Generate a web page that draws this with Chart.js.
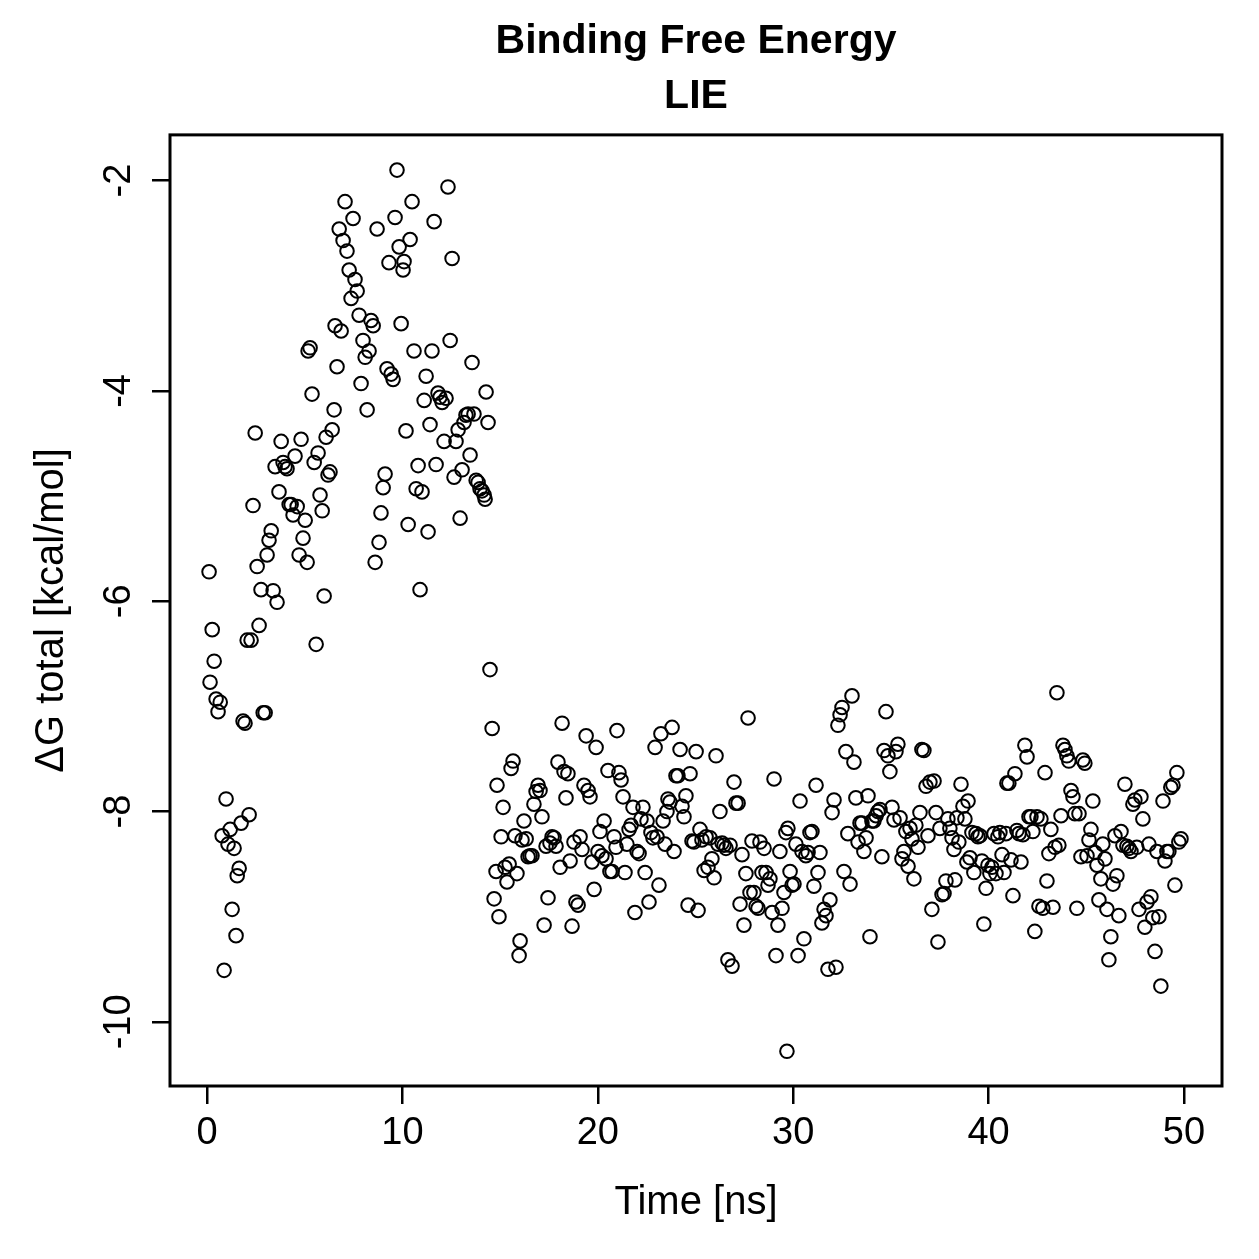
<!DOCTYPE html>
<html>
<head>
<meta charset="utf-8">
<script src="https://cdn.jsdelivr.net/npm/chart.js@4/dist/chart.umd.min.js"></script>
<style>
html,body{margin:0;padding:0;background:#fff;}
#wrap{width:1259px;height:1259px;position:relative;}
</style>
</head>
<body>
<div id="wrap"><canvas id="c"></canvas></div>
<script>
// ---- data (Time in ns, ΔG total in kcal/mol) ----
const titleLines = ['Binding Free Energy', 'LIE'];
const xAxisTitle = 'Time [ns]';
const yAxisTitle = 'ΔG total [kcal/mol]';
const xTicks = [0, 10, 20, 30, 40, 50];
const yTicks = [-10, -8, -6, -4, -2];
const yTickLabels = ['-10', '-8', '-6', '-4', '-2'];

const time00_10 = [0.10,0.15,0.26,0.36,0.46,0.56,0.67,0.77,0.87,0.97,
1.07,1.18,1.28,1.38,1.48,1.54,1.64,1.74,1.84,1.94,
2.05,2.15,2.25,2.35,2.46,2.56,2.66,2.76,2.87,2.97,
3.07,3.17,3.28,3.38,3.48,3.58,3.68,3.79,3.89,3.99,
4.09,4.20,4.30,4.40,4.50,4.61,4.71,4.81,4.91,5.02,
5.12,5.17,5.27,5.37,5.48,5.58,5.68,5.78,5.89,5.99,
6.09,6.19,6.29,6.40,6.50,6.55,6.65,6.76,6.86,6.96,
7.06,7.16,7.27,7.37,7.47,7.57,7.68,7.78,7.88,7.98,
8.09,8.19,8.29,8.39,8.50,8.60,8.70,8.80,8.90,9.01,
9.11,9.21,9.31,9.42,9.52,9.62,9.72,9.83,9.93];
const dG00_10 = [-5.72,-6.77,-6.27,-6.57,-6.93,-7.05,-6.96,-8.23,-9.51,-7.88,
-8.31,-8.17,-8.93,-8.35,-9.18,-8.61,-8.54,-8.11,-7.14,-7.16,
-6.37,-8.03,-6.37,-5.09,-4.40,-5.67,-6.23,-5.89,-7.06,-7.06,
-5.56,-5.42,-5.33,-5.90,-4.72,-6.01,-4.96,-4.48,-4.68,-4.72,
-4.74,-5.08,-5.08,-5.18,-4.62,-5.10,-5.56,-4.46,-5.40,-5.23,
-5.63,-3.62,-3.59,-4.03,-4.68,-6.41,-4.59,-4.99,-5.14,-5.95,
-4.44,-4.80,-4.77,-4.37,-4.18,-3.38,-3.77,-2.46,-3.43,-2.57,
-2.20,-2.67,-2.85,-3.12,-2.36,-2.94,-3.05,-3.28,-3.93,-3.52,
-3.68,-4.18,-3.62,-3.33,-3.38,-5.63,-2.46,-5.44,-5.16,-4.92,
-4.79,-3.79,-2.78,-3.84,-3.89,-2.35,-1.90,-2.63,-3.36];

const time10_20 = [10.03,10.08,10.18,10.29,10.39,10.49,10.59,10.70,10.80,10.90,
11.00,11.11,11.21,11.31,11.41,11.51,11.62,11.72,11.82,11.92,
12.03,12.13,12.23,12.33,12.44,12.54,12.64,12.74,12.85,12.95,
13.05,13.15,13.25,13.36,13.46,13.56,13.66,13.77,13.87,13.97,
14.07,14.18,14.23,14.28,14.38,
14.48,14.59,14.69,14.79,14.84,14.94,15.05,15.15,15.25,15.35,
15.46,15.56,15.66,15.76,15.86,15.97,16.02,16.12,16.22,16.33,
16.43,16.53,16.63,16.73,16.84,16.94,17.04,17.14,17.25,17.35,
17.45,17.55,17.66,17.76,17.86,17.96,18.07,18.17,18.27,18.37,
18.47,18.58,18.68,18.78,18.88,18.99,19.09,19.19,19.29,19.40,
19.50,19.60,19.70,19.81,19.91];
const dG10_20 = [-2.85,-2.77,-4.38,-5.27,-2.56,-2.20,-3.62,-4.93,-4.71,-5.89,
-4.96,-4.09,-3.86,-5.34,-4.32,-3.62,-2.39,-4.70,-4.02,-4.06,
-4.11,-4.48,-4.07,-2.06,-3.52,-2.74,-4.82,-4.48,-4.37,-5.21,
-4.75,-4.30,-4.23,-4.22,-4.61,-3.73,-4.22,-4.85,-4.87,-4.93,
-4.95,-4.99,-5.03,-4.01,-4.30,
-6.65,-7.21,-8.83,-8.57,-7.75,-9.00,-8.24,-7.96,-8.53,-8.67,
-8.50,-7.59,-7.52,-8.23,-8.59,-9.37,-9.23,-8.27,-8.09,-8.26,
-8.43,-8.42,-8.42,-7.93,-7.81,-7.75,-7.80,-8.05,-9.08,-8.33,
-8.82,-8.30,-8.24,-8.25,-8.33,-7.53,-8.53,-7.16,-7.62,-7.87,
-7.64,-8.47,-9.09,-8.29,-8.86,-8.89,-8.24,-8.36,-7.75,-7.28,
-7.80,-7.86,-8.48,-8.74,-7.39];

const time20_30 = [20.01,20.11,20.21,20.32,20.42,20.52,20.62,20.73,20.83,20.93,
20.98,21.08,21.19,21.29,21.39,21.49,21.60,21.70,21.80,21.90,
22.01,22.11,22.21,22.31,22.42,22.52,22.62,22.72,22.82,22.93,
23.03,23.13,23.23,23.34,23.44,23.54,23.59,23.69,23.80,23.90,
24.00,24.10,24.21,24.31,24.41,24.51,24.62,24.72,24.82,24.92,
25.03,25.13,25.23,25.33,25.44,25.54,25.64,25.74,25.84,25.95,
26.05,26.15,26.25,26.36,26.46,26.56,26.66,26.77,26.87,26.97,
27.07,27.18,27.28,27.38,27.48,27.58,27.69,27.79,27.89,27.99,
28.10,28.20,28.30,28.40,28.51,28.61,28.71,28.81,28.92,29.02,
29.12,29.22,29.32,29.43,29.53,29.63,29.68,29.73,29.84,29.94];
const dG20_30 = [-8.38,-8.19,-8.42,-8.09,-8.45,-7.61,-8.57,-8.57,-8.24,-8.34,
-7.23,-7.63,-7.70,-7.86,-8.58,-8.31,-8.17,-8.13,-7.96,-8.96,
-8.38,-8.40,-8.07,-7.96,-8.58,-8.09,-8.86,-8.20,-8.25,-7.39,
-8.24,-8.70,-7.26,-8.09,-8.31,-8.00,-7.88,-7.91,-7.20,-8.38,
-7.66,-7.66,-7.41,-7.95,-8.05,-7.85,-8.89,-7.64,-8.28,-8.29,
-7.43,-8.94,-8.17,-8.27,-8.56,-8.24,-8.53,-8.25,-8.45,-8.63,
-7.47,-8.31,-8.00,-8.30,-8.32,-8.35,-9.41,-8.32,-9.47,-7.72,
-7.92,-7.92,-8.88,-8.41,-9.08,-8.59,-7.11,-8.77,-8.28,-8.77,
-8.90,-8.92,-8.29,-8.58,-8.35,-8.58,-8.70,-8.64,-8.96,-7.69,
-9.37,-9.08,-8.38,-8.92,-8.77,-8.20,-10.28,-8.16,-8.57,-8.70];

const time30_40 = [30.04,30.14,30.25,30.35,30.45,30.55,30.65,30.76,30.86,30.96,
31.06,31.17,31.27,31.37,31.47,31.58,31.68,31.78,31.88,31.99,
32.09,32.19,32.29,32.40,32.50,32.60,32.70,32.80,32.91,33.01,
33.11,33.21,33.32,33.42,33.52,33.62,33.73,33.83,33.93,34.03,
34.13,34.24,34.34,34.44,34.54,34.65,34.75,34.85,34.95,35.06,
35.16,35.26,35.36,35.47,35.57,35.67,35.77,35.88,35.98,36.08,
36.18,36.28,36.39,36.49,36.59,36.69,36.80,36.90,37.00,37.10,
37.21,37.31,37.41,37.51,37.62,37.72,37.82,37.92,38.02,38.13,
38.23,38.28,38.38,38.48,38.59,38.69,38.79,38.89,38.95,39.05,
39.15,39.25,39.36,39.46,39.56,39.66,39.76,39.87,39.97];
const dG30_40 = [-8.69,-8.31,-9.37,-7.90,-8.38,-9.21,-8.42,-8.39,-8.20,-8.19,
-8.71,-7.75,-8.58,-8.39,-9.06,-8.93,-8.99,-9.50,-8.84,-8.01,
-7.89,-9.48,-7.18,-7.08,-7.01,-8.57,-7.43,-8.21,-8.69,-6.90,
-7.53,-7.87,-8.29,-8.11,-8.11,-8.38,-8.25,-7.85,-9.19,-8.09,
-8.09,-8.04,-8.00,-7.98,-8.43,-7.42,-7.05,-7.47,-7.62,-7.96,
-8.08,-7.43,-7.36,-8.06,-8.45,-8.38,-8.19,-8.52,-8.16,-8.26,
-8.64,-8.13,-8.34,-8.01,-7.41,-7.42,-7.76,-8.23,-7.72,-8.93,
-7.71,-8.01,-9.24,-8.16,-8.79,-8.78,-8.66,-8.07,-8.16,-8.25,
-8.36,-8.65,-8.06,-8.29,-7.74,-7.95,-8.07,-8.48,-7.90,-8.44,
-8.20,-8.58,-8.21,-8.24,-8.23,-8.47,-9.07,-8.73,-8.51];

const time40_50 = [40.07,40.17,40.28,40.38,40.48,40.58,40.69,40.79,40.89,40.94,
41.04,41.15,41.25,41.35,41.45,41.56,41.66,41.76,41.86,41.97,
42.07,42.17,42.27,42.37,42.48,42.58,42.68,42.78,42.89,42.99,
43.09,43.19,43.30,43.40,43.50,43.60,43.71,43.81,43.91,44.01,
44.11,44.22,44.32,44.42,44.52,44.63,44.73,44.83,44.93,45.04,
45.14,45.24,45.34,45.45,45.55,45.65,45.75,45.85,45.96,46.06,
46.16,46.26,46.37,46.47,46.57,46.67,46.78,46.88,46.98,47.08,
47.19,47.29,47.39,47.49,47.59,47.70,47.80,47.90,48.00,48.11,
48.21,48.31,48.41,48.52,48.62,48.72,48.82,48.93,49.03,49.13,
49.23,49.33,49.44,49.54,49.64,49.74,49.85];
const dG40_50 = [-8.59,-8.53,-8.21,-8.59,-8.24,-8.20,-8.41,-8.58,-8.21,-7.73,
-7.73,-8.46,-8.80,-7.64,-8.18,-8.21,-8.48,-8.22,-7.37,-7.48,
-8.05,-8.05,-8.19,-9.14,-8.05,-8.90,-8.07,-8.92,-7.63,-8.66,
-8.40,-8.17,-8.91,-8.34,-6.87,-8.32,-8.04,-7.37,-7.41,-7.47,
-7.52,-7.80,-7.86,-8.02,-8.92,-8.02,-8.43,-7.51,-7.54,-8.42,
-8.27,-8.17,-7.90,-8.39,-8.51,-8.84,-8.64,-8.31,-8.45,-8.93,
-9.41,-9.19,-8.69,-8.23,-8.61,-8.99,-8.19,-8.32,-7.74,-8.33,
-8.35,-8.38,-7.93,-7.89,-8.34,-8.93,-7.86,-8.07,-9.10,-8.86,
-8.31,-8.81,-9.01,-9.33,-8.38,-9.00,-9.66,-7.90,-8.47,-8.38,
-8.38,-7.77,-7.75,-8.70,-7.63,-8.29,-8.26];

// ---- chart ----
const FONT = "'Liberation Sans', Arial, Helvetica, sans-serif";
const chunks = [[time00_10, dG00_10],[time10_20, dG10_20],[time20_30, dG20_30],[time30_40, dG30_40],[time40_50, dG40_50]];
const datasets = chunks.map(([t, g]) => ({
  data: t.map((x, i) => ({x: x, y: g[i]})),
  showLine: false,
  pointStyle: 'circle',
  pointRadius: 6.8,
  pointBorderWidth: 2,
  pointBorderColor: '#000',
  pointBackgroundColor: 'rgba(0,0,0,0)'
}));

const boxPlugin = {
  id: 'box',
  afterDraw(chart) {
    const {ctx, chartArea: a, scales} = chart;
    ctx.save();
    ctx.strokeStyle = '#000';
    ctx.lineWidth = 3;
    ctx.strokeRect(a.left, a.top, a.right - a.left, a.bottom - a.top);
    // rotated y tick labels (R style)
    ctx.fillStyle = '#000';
    ctx.font = '38px ' + FONT;
    ctx.textAlign = 'center';
    ctx.textBaseline = 'middle';
    yTicks.forEach((v, i) => {
      const py = scales.y.getPixelForValue(v);
      ctx.save();
      ctx.translate(120, py);
      ctx.rotate(-Math.PI / 2);
      ctx.fillText(yTickLabels[i], 0, 0);
      ctx.restore();
    });
    ctx.restore();
  }
};

new Chart(document.getElementById('c'), {
  type: 'scatter',
  data: {datasets},
  options: {
    responsive: true,
    maintainAspectRatio: false,
    animation: false,
    devicePixelRatio: 1,
    layout: {padding: {left: 0, right: 37, top: 0, bottom: 0}},
    plugins: {
      legend: {display: false},
      tooltip: {enabled: false},
      title: {
        display: true,
        fullSize: false,
        text: titleLines,
        color: '#000',
        font: {family: FONT, size: 41, weight: 'bold', lineHeight: 1.34},
        padding: {top: 14, bottom: 11}
      }
    },
    scales: {
      x: {
        type: 'linear',
        min: -1.9,
        max: 51.95,
        afterBuildTicks: ax => { ax.ticks = xTicks.map(v => ({value: v})); },
        afterFit: s => { s.height = 173; },
        grid: {drawOnChartArea: false, drawTicks: true, tickLength: 18, color: '#000', lineWidth: 2.5},
        border: {display: false},
        ticks: {color: '#000', font: {family: FONT, size: 38}, padding: 7, maxRotation: 0, autoSkip: false},
        title: {display: true, text: xAxisTitle, color: '#000', font: {family: FONT, size: 40}, padding: {top: 0, bottom: 32}}
      },
      y: {
        type: 'linear',
        min: -10.61,
        max: -1.565,
        afterBuildTicks: ax => { ax.ticks = yTicks.map(v => ({value: v})); },
        afterFit: s => { s.width = 170; },
        grid: {drawOnChartArea: false, drawTicks: true, tickLength: 18, color: '#000', lineWidth: 2.5},
        border: {display: false},
        ticks: {display: false},
        title: {display: true, text: yAxisTitle, color: '#000', font: {family: FONT, size: 40}, padding: {top: 28, bottom: 0}}
      }
    }
  },
  plugins: [boxPlugin]
});
</script>
</body>
</html>
